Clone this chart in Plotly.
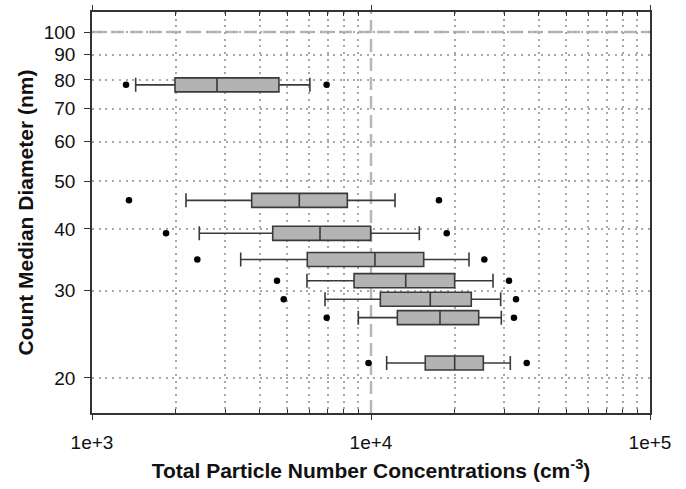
import plotly.graph_objects as go

# Count median diameter (nm) of each box row
cmd = [78.2, 45.7, 39.2, 34.7, 31.45, 28.84, 26.48, 21.45]
# Box statistics of total particle number concentration (cm^-3)
lower_whisker = [1434, 2172, 2424, 3412, 5895, 6842, 9006, 11380]
q1 = [1984, 3736, 4443, 5910, 8694, 10800, 12430, 15650]
median = [2805, 5534, 6565, 10330, 13320, 16310, 17670, 19950]
q3 = [4677, 8226, 9975, 15450, 19950, 22880, 24320, 25270]
upper_whisker = [6040, 12190, 14900, 22450, 27370, 29160, 29310, 31570]
outlier_low = [1324, 1357, 1842, 2385, 4604, 4865, 6937, 9795]
outlier_high = [6933, 17520, 18680, 25480, 31230, 33090, 32540, 36150]

# axis ticks
x_major = [1e3, 1e4, 1e5]
x_major_text = ["1e+3", "1e+4", "1e+5"]
x_minor = [2e3, 3e3, 4e3, 5e3, 6e3, 7e3, 8e3, 9e3,
           2e4, 3e4, 4e4, 5e4, 6e4, 7e4, 8e4, 9e4]
y_ticks = [20, 30, 40, 50, 60, 70, 80, 90, 100]
y_tick_text = [str(v) for v in y_ticks]

ref_conc = 1e4
ref_diam = 100

fig = go.Figure()

fig.add_trace(go.Box(
    y=cmd, orientation="h",
    q1=q1, median=median, q3=q3,
    lowerfence=lower_whisker, upperfence=upper_whisker,
    boxpoints=False,
    width=0.0283,
    whiskerwidth=1,
    fillcolor="#b3b3b3",
    line=dict(color="#3a3a3a", width=1.6),
    showlegend=False, hoverinfo="skip",
))

fig.add_trace(go.Scatter(
    x=outlier_low + outlier_high, y=cmd + cmd,
    mode="markers",
    marker=dict(color="black", size=6.5),
    showlegend=False, hoverinfo="skip",
))

ref_line = dict(color="#b8b8b8", width=2.5, dash="13px,6px")
fig.add_vline(x=ref_conc, line=ref_line, layer="below")
fig.add_hline(y=ref_diam, line=ref_line, layer="below")

font_family = "Liberation Sans, Arial, sans-serif"
grid_dash = "2px,4.7px"
grid_color = "#a8a8a8"

fig.update_layout(
    width=686, height=489,
    margin=dict(l=92, r=36, t=12, b=76, autoexpand=False),
    paper_bgcolor="white", plot_bgcolor="white",
    font=dict(family=font_family, size=19, color="#111111"),
    xaxis=dict(
        type="log", range=[3, 5], automargin=False,
        tickvals=x_major, ticktext=x_major_text,
        showgrid=False,
        ticks="outside", ticklen=5, tickcolor="#333333", tickwidth=1.2,
        ticklabelstandoff=6,
        showline=True, linecolor="#333333", linewidth=1.5, mirror="allticks",
        minor=dict(tickvals=x_minor, ticks="inside", ticklen=4, tickcolor="#333333",
                   showgrid=True, gridcolor=grid_color, griddash=grid_dash, gridwidth=1.6),
        title=dict(text="<b>Total Particle Number Concentrations (cm<sup>-3</sup>)</b>",
                   font=dict(size=21), standoff=12),
        tickfont=dict(size=19),
        zeroline=False,
    ),
    yaxis=dict(
        type="log", range=[1.2303, 2.0404], automargin=False,
        tickvals=y_ticks, ticktext=y_tick_text,
        showgrid=True, gridcolor=grid_color, griddash=grid_dash, gridwidth=1.6,
        ticks="outside", ticklen=6, tickcolor="#333333", tickwidth=1.2,
        ticklabelstandoff=5,
        showline=True, linecolor="#333333", linewidth=1.5, mirror=True,
        title=dict(text="<b>Count Median Diameter (nm)</b>", font=dict(size=21), standoff=4),
        tickfont=dict(size=19),
        zeroline=False,
    ),
)

fig.write_html("out.html")
